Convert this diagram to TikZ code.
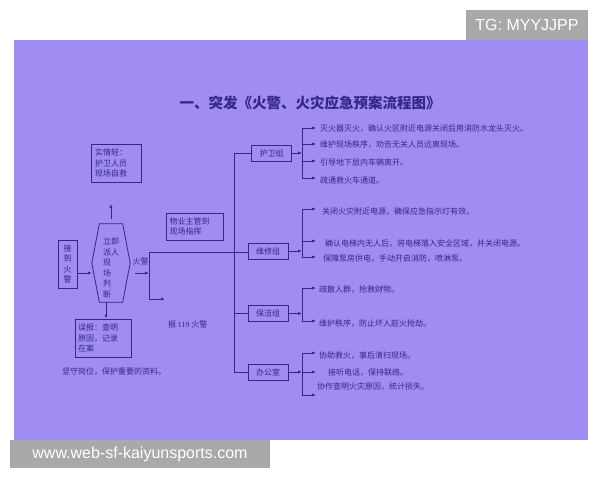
\documentclass[tikz,border=0pt]{standalone}
\usepackage{fontspec}
\setmainfont{Liberation Serif}
\newfontfamily\cjk{Noto Sans CJK SC}
\newfontfamily\wmfont{Liberation Sans}
\usetikzlibrary{arrows.meta,positioning}
\definecolor{panel}{HTML}{A08CF2}
\definecolor{ink}{HTML}{36268A}
\definecolor{wmgray}{HTML}{A9A9A9}
\tikzset{
  txt/.style={font=\cjk\fontsize{8}{10.5}\selectfont,text=ink},
  box/.style={txt,draw=ink,line width=0.8pt,inner sep=2pt,align=left},
  group/.style={box,minimum width=40pt,minimum height=16pt,inner sep=1pt},
  item/.style={txt,anchor=west,inner sep=1pt},
  link/.style={draw=ink,line width=0.8pt},
  arr/.style={link,-{Latex[length=4pt,width=3.2pt]}},
  wmark/.style={fill=wmgray,text=white,font=\wmfont\fontsize{16}{16}\selectfont,inner sep=0pt}
}

\begin{document}
\begin{tikzpicture}[x=1pt,y=-1pt]
  \useasboundingbox (0,0) rectangle (600,480);
  \fill[panel] (14,40) rectangle (588,440);
  % watermarks
  \node[wmark,minimum width=122pt,minimum height=30pt] (tg) at (527,25) {TG: MYYJJPP};
  \node[wmark,minimum width=260pt,minimum height=28pt] (site) at (140,454) {www.web-sf-kaiyunsports.com};
  % title
  \node[txt,font=\cjk\bfseries\fontsize{14.5}{16}\selectfont] (title) at (310,103)
    {一、突发《火警、火灾应急预案流程图》};

  % left part
  \node[box,minimum width=50pt,minimum height=38pt,text width=42pt] (light) at (116,163)
    {实情轻：\\护卫人员\\现场自救};
  \node[box,minimum width=19pt,minimum height=48pt,inner sep=1pt] (alarm) at (67.5,264)
    {接\\到\\火\\警};
  \node[minimum width=38pt,minimum height=78pt,inner sep=0pt] (judge) at (111,263) {};
  \draw[link] ([xshift=7.5pt]judge.north west) -- ([xshift=-7.5pt]judge.north east)
    -- (judge.east) -- ([xshift=-7.5pt]judge.south east)
    -- ([xshift=7.5pt]judge.south west) -- (judge.west) -- cycle;
  \node[txt,align=left,anchor=north west,inner sep=0pt] (judgetxt)
    at ([xshift=11pt,yshift=-14pt]judge.north west) {立即\\派人\\现\\场\\判\\断};
  \node[box,minimum width=56pt,minimum height=38pt,text width=50pt] (false) at (103,338)
    {误报：查明\\原因，记录\\在案};
  \node[item] (keep) at (61,372) {坚守岗位，保护重要的资料。};
  \node[box,minimum width=57pt,minimum height=27pt,text width=50pt] (boss) at (194.5,226.5)
    {物业主管到\\现场指挥};
  \node[item] (call) at (167,324) {报 {\rmfamily 119} 火警};

  \coordinate (up) at (112,204);
  \coordinate (fireY) at (0,273);
  \coordinate (fork) at (149,252);
  \coordinate (forkb) at (149,299);
  \coordinate (out) at (165,299);
  \draw[arr] ([yshift=5pt]judge.north) -- (judge.north |- up);
  \draw[arr] ([xshift=3pt]false.north |- judge.south) -- ([xshift=3pt]false.north);
  \draw[arr] (alarm.east |- fireY) -- (judge.west |- fireY);
  \draw[arr] ([xshift=5pt]judge.east |- fireY) -- (fork |- fireY)
    node[pos=0.4,above=7pt,inner sep=0pt,txt] (firelbl) {火警};
  \draw[link] (fork) -- (forkb);
  \draw[arr] (forkb) -- (out);

  % groups
  \node[group] (guard) at (271.5,153) {护卫组};
  \node[group] (repair) at (268,251) {维修组};
  \node[group] (clean) at (268,313.5) {保洁组};
  \node[group] (office) at (268,372) {办公室};
  \coordinate (bus) at (234,0);
  \coordinate (sub) at (302,0);
  \draw[link] (guard.west) -- (guard.west -| bus) -- (office.west -| bus) -- (office.west);
  \draw[link] (fork) -- (fork -| repair.west);
  \draw[link] (clean.west -| bus) -- (clean.west);
  \foreach \g in {guard,repair,clean,office}
    \draw[arr] (\g.east) -- (\g.east -| sub);

  % tasks of each group
  \foreach \ya/\xt/\yt/\t [count=\i] in {
      128/319/129/{灭火器灭火，确认火区附近电源关闭后用消防水龙头灭火。},
      144/319/145/{维护现场秩序，劝告无关人员远离现场。},
      161/319/162/{引导地下层内车辆离开。},
      178/319/180/{疏通救火车通道。}} {
    \node[item] (guard\i) at (\xt,\yt) {\t};
    \coordinate (gtip\i) at (316,\ya);
    \draw[arr] (sub |- gtip\i) -- (gtip\i);
  }
  \draw[link] (sub |- gtip1) -- (sub |- gtip4);

  \foreach \ya/\xt/\yt/\t [count=\i] in {
      209/321/212/{关闭火灾附近电源，确保应急指示灯有效。},
      241/324/244/{确认电梯内无人后，将电梯落入安全区域，并关闭电源。},
      257/322/259/{保障泵房供电，手动开启消防，喷淋泵。}} {
    \node[item] (repair\i) at (\xt,\yt) {\t};
    \coordinate (rtip\i) at (316,\ya);
    \draw[arr] (sub |- rtip\i) -- (rtip\i);
  }
  \draw[link] (sub |- rtip1) -- (sub |- rtip3);

  \foreach \ya/\xt/\yt/\t [count=\i] in {
      288/318/290/{疏散人群，抢救财物。},
      321/318/324/{维护秩序，防止坏人趁火抢劫。}} {
    \node[item] (clean\i) at (\xt,\yt) {\t};
    \coordinate (ctip\i) at (316,\ya);
    \draw[arr] (sub |- ctip\i) -- (ctip\i);
  }
  \draw[link] (sub |- ctip1) -- (sub |- ctip2);

  \foreach \ya/\xt/\yt/\t [count=\i] in {
      353/318/356/{协助救火，事后清扫现场。},
      372/327/373/{接听电话，保持联络。},
      395/316/387/{协作查明火灾原因，统计损失。}} {
    \node[item] (office\i) at (\xt,\yt) {\t};
    \coordinate (otip\i) at (316,\ya);
    \draw[arr] (sub |- otip\i) -- (otip\i);
  }
  \draw[link] (sub |- otip1) -- (sub |- otip3);
\end{tikzpicture}
\end{document}
